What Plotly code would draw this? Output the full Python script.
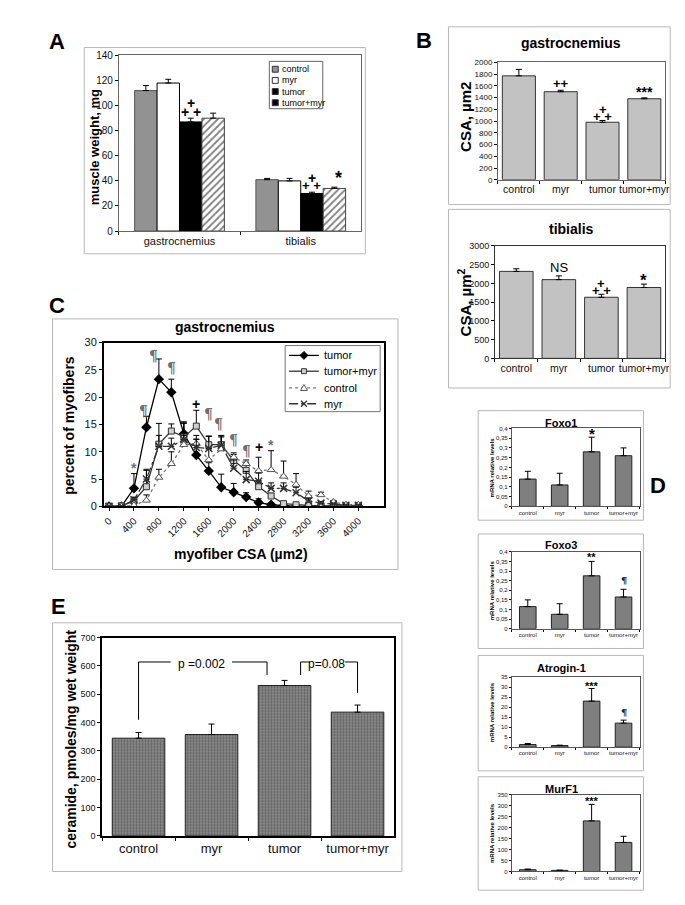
import plotly.graph_objects as go

W, H = 685, 905
FONT = "Liberation Sans, Arial, sans-serif"
SERIF = "DejaVu Serif, serif"

# ---------------- data ----------------
# Panel A: muscle weight (mg)
a_muscles = ["gastrocnemius", "tibialis"]
a_control = [112, 41]
a_control_err = [4, 1]
a_myr = [118, 40]
a_myr_err = [3, 2]
a_tumor = [87, 30]
a_tumor_err = [3, 1]
a_tmyr = [90, 34]
a_tmyr_err = [4, 1]
a_yticks = [0, 20, 40, 60, 80, 100, 120, 140]

groups = ["control", "myr", "tumor", "tumor+myr"]

# Panel B: CSA
b_gastro = [1770, 1500, 980, 1380]
b_gastro_err = [110, 25, 30, 15]
b_tib = [2320, 2100, 1630, 1890]
b_tib_err = [70, 100, 80, 90]

# Panel C: fiber size distribution
c_csa = [0, 200, 400, 600, 800, 1000, 1200, 1400, 1600, 1800, 2000,
         2200, 2400, 2600, 2800, 3000, 3200, 3400, 3600, 3800, 4000]
c_tumor = [0, 0, 3.3, 14.5, 23.3, 20.9, 13.3, 9.4, 6.5, 3.5, 2.6,
           1.7, 0.7, 0.3, 0.1, 0, 0, 0, 0, 0, 0]
c_tumor_err = [0, 0, 2.7, 2.0, 3.7, 2.4, 2.2, 2.9, 1.5, 2.4, 1.6,
               0.8, 0.7, 0.3, 0, 0, 0, 0, 0, 0, 0]
c_tmyr = [0, 0.1, 1.0, 3.6, 11.4, 13.8, 12.7, 14.7, 11.3, 11.3, 8.4,
          6.6, 3.6, 1.9, 0.5, 0.3, 0.2, 0.1, 0.1, 0.1, 0.1]
c_tmyr_err = [0, 0, 0.5, 3.2, 3.8, 1.3, 2.6, 2.9, 1.6, 1.4, 1.1,
              1.5, 1.1, 0.5, 0.2, 0, 0, 0, 0, 0, 0]
c_control = [0, 0, 0.2, 1.1, 5.3, 7.8, 11.3, 11.5, 8.5, 10.5, 9.0,
             7.8, 6.5, 6.7, 5.5, 4.0, 1.9, 2.1, 0.8, 0.3, 0.3]
c_control_err = [0, 0, 0.2, 1.0, 1.5, 2.2, 1.7, 1.5, 2.0, 2.4, 0.8,
                 0.7, 2.5, 3.5, 2.8, 2.0, 0.9, 0.5, 0.3, 0.2, 0.1]
c_myr = [0, 0, 1.2, 5.0, 11.0, 11.0, 12.2, 10.8, 10.6, 11.2, 7.0,
         4.9, 4.6, 3.3, 3.3, 2.5, 1.0, 0.6, 0.4, 0.2, 0.2]
c_myr_err = [0, 0, 0.5, 1.6, 2.0, 1.5, 3.0, 1.5, 2.2, 1.8, 1.5,
             1.5, 1.5, 1.0, 1.0, 1.0, 0.5, 0.3, 0.2, 0.1, 0.1]
c_xticks = [0, 400, 800, 1200, 1600, 2000, 2400, 2800, 3200, 3600, 4000]

# Panel D: mRNA levels
d_foxo1 = [0.14, 0.11, 0.28, 0.26]
d_foxo1_err = [0.04, 0.06, 0.075, 0.04]
d_foxo3 = [0.115, 0.075, 0.275, 0.165]
d_foxo3_err = [0.035, 0.055, 0.075, 0.04]
d_atrogin = [1.3, 0.8, 23, 12]
d_atrogin_err = [0.5, 0.2, 6.3, 1.5]
d_murf1 = [8, 5, 230, 132]
d_murf1_err = [3, 1, 75, 28]
d_fox_ticks = [0, 0.05, 0.1, 0.15, 0.2, 0.25, 0.3, 0.35, 0.4]
d_fox_ticktext = ["0", "0,05", "0,1", "0,15", "0,2", "0,25", "0,3", "0,35", "0,4"]

# Panel E: ceramide
e_vals = [345, 358, 531, 437]
e_err = [20, 37, 18, 25]

# ---------------- helpers ----------------
def dx(l, r):
    return [l / W, r / W]

def dy(t, b):
    return [1 - b / H, 1 - t / H]

def px(x):
    return x / W

def py(y):
    return 1 - y / H

def errs(arr):
    return dict(type="data", array=arr, arrayminus=[0] * len(arr), symmetric=False,
                color="black", thickness=1, width=3)

annotations = []
shapes = []

def ann(text, x, y, xref="paper", yref="paper", size=10, bold=False, color="black",
        angle=0, xanchor="center", yanchor="middle", family=FONT):
    if bold:
        text = "<b>" + text + "</b>"
    annotations.append(dict(text=text, x=x, y=y, xref=xref, yref=yref, showarrow=False,
                            font=dict(family=family, size=size, color=color),
                            textangle=angle, xanchor=xanchor, yanchor=yanchor))

def box(l, t, r, b, color="#b8b8b8", fill=None, width=1):
    shapes.append(dict(type="rect", xref="paper", yref="paper", x0=px(l), x1=px(r),
                       y0=py(b), y1=py(t), line=dict(color=color, width=width),
                       fillcolor=fill if fill else "rgba(0,0,0,0)"))

def pline(x0, y0, x1, y1, color="black", width=1, dash="solid"):
    shapes.append(dict(type="line", xref="paper", yref="paper", x0=px(x0), y0=py(y0),
                       x1=px(x1), y1=py(y1), line=dict(color=color, width=width, dash=dash)))

def ppath(points, fill, color="black", width=1):
    d = "M " + " L ".join(f"{px(x):.5f},{py(y):.5f}" for x, y in points) + " Z"
    shapes.append(dict(type="path", xref="paper", yref="paper", path=d, fillcolor=fill,
                       line=dict(color=color, width=width)))

fig = go.Figure()

# ---------------- Panel A ----------------
a_series = [
    ("control", a_control, a_control_err, dict(color="#929292", line=dict(color="#555", width=1))),
    ("myr", a_myr, a_myr_err, dict(color="white", line=dict(color="black", width=1))),
    ("tumor", a_tumor, a_tumor_err, dict(color="black", line=dict(color="black", width=1))),
    ("tumor+myr", a_tmyr, a_tmyr_err, dict(color="white", line=dict(color="#444", width=1),
                                          pattern=dict(shape="/", fgcolor="black", bgcolor="white",
                                                       size=5, solidity=0.35))),
]
for name, vals, er, mk in a_series:
    fig.add_trace(go.Bar(x=a_muscles, y=vals, name=name, marker=mk, error_y=errs(er),
                         xaxis="x", yaxis="y", showlegend=False))

BARGAP = 0.26
slot = (1 - BARGAP) / 4
def a_pos(cat_idx, series_idx):
    return cat_idx - (1 - BARGAP) / 2 + (series_idx + 0.5) * slot

ann("+", a_pos(0, 2), a_tumor[0] + a_tumor_err[0] + 12, "x", "y", 14, True)
ann("+ +", a_pos(0, 2), a_tumor[0] + a_tumor_err[0] + 5, "x", "y", 14, True)
ann("+", a_pos(1, 2), a_tumor[1] + a_tumor_err[1] + 11, "x", "y", 14, True)
ann("+ +", a_pos(1, 2), a_tumor[1] + a_tumor_err[1] + 5, "x", "y", 13, True)
ann("*", a_pos(1, 3) + 0.03, a_tmyr[1] + a_tmyr_err[1] + 7, "x", "y", 18, True)

# legend A (drawn as decoration)
box(262, 48, 316, 96, color="#666")
a_leg_fill = ["#929292", "white", "black", "black"]
for i, (name, fill) in enumerate(zip(groups, a_leg_fill)):
    yc = 56 + i * 11.3
    box(265, yc - 3, 271, yc + 3, color="#333", fill=fill)
    ann(name, px(273), py(yc), size=9, xanchor="left")

# ---------------- Panel B ----------------
b_style = dict(color="#c2c2c2", line=dict(color="#333", width=1))
fig.add_trace(go.Bar(x=groups, y=b_gastro, marker=b_style, error_y=errs(b_gastro_err), width=0.79,
                     xaxis="x2", yaxis="y2", showlegend=False))
fig.add_trace(go.Bar(x=groups, y=b_tib, marker=b_style, error_y=errs(b_tib_err), width=0.79,
                     xaxis="x3", yaxis="y3", showlegend=False))
ann("++", 1, b_gastro[1] + 135, "x2", "y2", 13, True)
ann("+", 2, b_gastro[2] + 220, "x2", "y2", 13, True)
ann("+ +", 2, b_gastro[2] + 95, "x2", "y2", 13, True)
ann("***", 3, b_gastro[3] + 110, "x2", "y2", 14, True)
ann("NS", 1, b_tib[1] + 330, "x3", "y3", 13)
ann("+", 2, b_tib[2] + 360, "x3", "y3", 13, True)
ann("+ +", 2, b_tib[2] + 170, "x3", "y3", 13, True)
ann("*", 3, b_tib[3] + 200, "x3", "y3", 17, True)

# ---------------- Panel C ----------------
c_series = [
    ("tumor", c_tumor, c_tumor_err, dict(color="black", width=1.3),
     dict(symbol="diamond", size=8, color="black")),
    ("tumor+myr", c_tmyr, c_tmyr_err, dict(color="#333", width=1.3),
     dict(symbol="square", size=6, color="#cfcfcf", line=dict(color="#333", width=1))),
    ("control", c_control, c_control_err, dict(color="#777", width=1.3, dash="dot"),
     dict(symbol="triangle-up", size=7, color="white", line=dict(color="#555", width=1))),
    ("myr", c_myr, c_myr_err, dict(color="#333", width=1.3, dash="dashdot"),
     dict(symbol="x-thin-open", size=7, color="#333", line=dict(color="#333", width=1.5))),
]
for name, vals, er, ln, mk in c_series:
    fig.add_trace(go.Scatter(x=c_csa, y=vals, name=name, mode="lines+markers", line=ln, marker=mk,
                             error_y=errs(er), xaxis="x4", yaxis="y4", showlegend=False))

pil = "#707070"
c_marks = [("*", 400, 7.0, pil), ("¶", 550, 17.5, pil), ("¶", 720, 27.5, pil), ("¶", 1000, 25.3, pil),
           ("+", 1400, 18.8, "black"), ("¶", 1600, 17.0, pil), ("¶", 1750, 15.0, pil),
           ("¶", 2000, 12.2, pil), ("¶", 2200, 10.2, pil), ("+", 2400, 10.9, "black"),
           ("*", 2600, 11.3, pil)]
for t, xv, yv, col in c_marks:
    ann(t, xv, yv, "x4", "y4", 14 if t == "¶" else 14, True, col,
        family=SERIF if t == "¶" else FONT)

# legend C (drawn as decoration)
box(278, 336, 374, 403, color="#777")
c_leg = [("tumor", 346, "black", "solid"), ("tumor+myr", 362, "#333", "solid"),
         ("control", 379, "#777", "dot"), ("myr", 395, "#333", "dashdot")]
for name, yc, col, dash in c_leg:
    pline(282, yc, 312, yc, col, 1.3, dash)
    ann(name, px(315), py(yc), size=11, xanchor="left")
ppath([(297, 346 - 4), (301, 346), (297, 346 + 4), (293, 346)], "black")
box(294.5, 362 - 2.5, 299.5, 362 + 2.5, color="#333", fill="#cfcfcf")
ppath([(297, 379 - 3.5), (300.5, 379 + 2.5), (293.5, 379 + 2.5)], "white", "#555")
pline(294, 392, 300, 398, "#333", 1.3)
pline(294, 398, 300, 392, "#333", 1.3)

# ---------------- Panel D ----------------
d_style = dict(color="#7f7f7f", line=dict(color="#222", width=1))
d_sets = [(d_foxo1, d_foxo1_err, "x5", "y5"), (d_foxo3, d_foxo3_err, "x6", "y6"),
          (d_atrogin, d_atrogin_err, "x7", "y7"), (d_murf1, d_murf1_err, "x8", "y8")]
for vals, er, xa, ya in d_sets:
    fig.add_trace(go.Bar(x=groups, y=vals, marker=d_style, error_y=errs(er), width=0.52,
                         xaxis=xa, yaxis=ya, showlegend=False))
ann("*", 2, 0.372, "x5", "y5", 15, True)
ann("**", 2, 0.375, "x6", "y6", 11, True)
ann("¶", 3, 0.25, "x6", "y6", 10, True, "#222", family=SERIF)
ann("***", 2, 30.5, "x7", "y7", 11, True)
ann("¶", 3, 17.3, "x7", "y7", 10, True, "#222", family=SERIF)
ann("***", 2, 320, "x8", "y8", 11, True)

# ---------------- Panel E ----------------
fig.add_trace(go.Bar(x=groups, y=e_vals, width=0.72, error_y=errs(e_err),
                     marker=dict(color="#808080", line=dict(color="#222", width=1),
                                 pattern=dict(shape=".", fgcolor="#303030", bgcolor="#8e8e8e",
                                              size=3, solidity=0.45)),
                     xaxis="x9", yaxis="y9", showlegend=False))

def eline(x0, y0, x1, y1):
    shapes.append(dict(type="line", xref="x9", yref="y9", x0=x0, y0=y0, x1=x1, y1=y1,
                       line=dict(color="black", width=1)))

eline(0, 410, 0, 614)
eline(0, 614, 0.44, 614)
eline(1.28, 614, 1.76, 614)
eline(1.76, 614, 1.76, 568)
ann("p =0.002", 0.86, 606, "x9", "y9", 12)
eline(2.22, 568, 2.22, 614)
eline(2.22, 614, 2.33, 614)
eline(2.83, 614, 3.0, 614)
eline(3.0, 614, 3.0, 505)
ann("p=0.08", 2.58, 606, "x9", "y9", 12)

# ---------------- boxes / labels ----------------
box(75, 34, 359, 243)
box(443, 13, 667, 193)
box(443, 198, 667, 379)
box(43, 309, 392, 563)
box(43, 617, 396, 869)
box(473, 402, 640, 513)
box(473, 527, 640, 643)
box(473, 650, 640, 767)
box(473, 773, 640, 888)

for letter, x, y in [("A", 47, 28), ("B", 418, 27), ("C", 47, 295), ("D", 655, 478), ("E", 49, 600)]:
    ann(letter, px(x), py(y), size=22, bold=True)

ann("muscle weight, mg", px(85), py(135), size=13, bold=True, angle=-90)
ann("gastrocnemius", px(567), py(29), size=14, bold=True)
ann("CSA, µm2", px(460), py(104), size=15, bold=True, angle=-90)
ann("tibialis", px(567), py(218), size=14, bold=True)
ann("CSA, µm<sup>2</sup>", px(459), py(292), size=15, bold=True, angle=-90)
ann("gastrocnemius", px(217), py(317), size=14, bold=True)
ann("percent of myofibers", px(60), py(417), size=14, bold=True, angle=-90)
ann("myofiber CSA (µm2)", px(233), py(547), size=14, bold=True)
ann("ceramide, pmoles/mg wet weight", px(62), py(735), size=14, bold=True, angle=-90)
for title, t, b, ty in [("Foxo1", 420, 499, 415), ("Foxo3", 545, 623, 538),
                        ("Atrogin-1", 672, 743, 663), ("MurF1", 791, 869, 785)]:
    ann(title, px(557), py(ty), size=11, bold=True)
    ann("mRNA relative levels", px(487), py((t + b) / 2), size=6, bold=True, angle=-90)

# ---------------- axes ----------------
def xax(dom, anchor, size=10, mirror=True, lc="black", lw=1, **kw):
    d = dict(domain=dom, anchor=anchor, showgrid=False, zeroline=False, showline=True,
             linecolor=lc, linewidth=lw, mirror=mirror, ticks="outside", ticklen=3,
             tickcolor="black", tickfont=dict(family=FONT, size=size, color="#111"))
    d.update(kw)
    return d

layout = dict(
    width=W, height=H, margin=dict(l=0, r=0, t=0, b=0),
    paper_bgcolor="white", plot_bgcolor="white",
    font=dict(family=FONT, color="black"),
    barmode="group", bargap=BARGAP, bargroupgap=0, showlegend=False,
    annotations=annotations, shapes=shapes,
    xaxis=xax(dx(110, 355), "y", 11, lc="#666", tickson="boundaries", type="category", tickangle=0),
    yaxis=xax(dy(42, 220), "x", 10, lc="#666", range=[0, 140], tickvals=a_yticks),
    xaxis2=xax(dx(493, 662), "y2", 10.5, lc="#666", tickson="boundaries", type="category", tickangle=0),
    yaxis2=xax(dy(49, 168), "x2", 8, lc="#666", range=[0, 2000], dtick=200),
    xaxis3=xax(dx(490, 662), "y3", 10.5, lc="#333", tickson="boundaries", type="category", tickangle=0),
    yaxis3=xax(dy(235, 349), "x3", 9, lc="#333", range=[0, 3000], dtick=500),
    xaxis4=xax(dx(95, 378), "y4", 10, lw=2, range=[-80, 4413], tickvals=c_xticks, tickangle=-45),
    yaxis4=xax(dy(333, 499), "x4", 11, lw=2, range=[0, 30], dtick=5),
    xaxis9=xax(dx(93, 388), "y9", 13, lw=1.5, tickson="boundaries", type="category", tickangle=0),
    yaxis9=xax(dy(632, 833), "x9", 9, lw=1.5, range=[0, 700], dtick=100),
)
d_axes = [("5", 420, 499, [0, 0.4], dict(tickvals=d_fox_ticks, ticktext=d_fox_ticktext)),
          ("6", 545, 623, [0, 0.4], dict(tickvals=d_fox_ticks, ticktext=d_fox_ticktext)),
          ("7", 672, 743, [0, 35], dict(dtick=5)),
          ("8", 791, 869, [0, 350], dict(dtick=50))]
for n, t, b, rng, extra in d_axes:
    layout["xaxis" + n] = xax(dx(507, 636), "y" + n, 6, lc="#555", tickson="boundaries",
                              type="category", ticklen=2, tickangle=0)
    layout["yaxis" + n] = xax(dy(t, b), "x" + n, 6, lc="#555", range=rng, ticklen=2, **extra)

fig.update_layout(**layout)
fig.write_html("out.html")
